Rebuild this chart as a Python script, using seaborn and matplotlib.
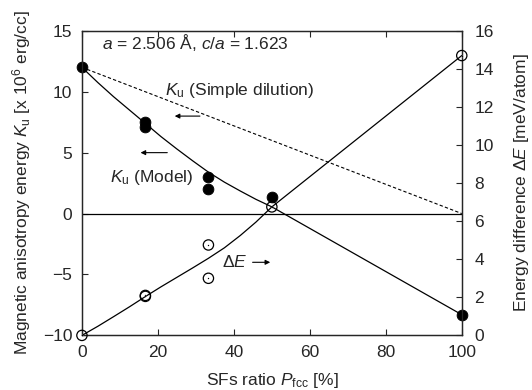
import numpy as np
import pandas as pd
import seaborn as sns
import matplotlib.pyplot as plt

# measured points
ku_x = [0, 16.7, 16.7, 33.3, 33.3, 50, 100]
ku_y = [12.0, 7.5, 7.1, 3.0, 2.0, 1.4, -8.3]
de_x = [0, 16.7, 16.7, 33.3, 33.3, 50, 100]
de_y = [0.0, 2.1, 2.05, 4.75, 3.0, 6.75, 14.7]

# model curves
model_x = [0, 4.2, 8.3, 12.5, 16.7, 20.8, 25, 29.2, 33.3, 37.5, 41.7, 45.8, 50, 100]
model_ku = [12.0, 10.75, 9.6, 8.5, 7.4, 6.32, 5.3, 4.32, 3.4, 2.58, 1.85, 1.17, 0.55, -8.3]
model_de = [0.0, 0.48, 0.98, 1.5, 2.04, 2.55, 3.05, 3.55, 4.05, 4.6, 5.25, 5.95, 6.75, 14.7]

# simple dilution
dil_x = [0, 100]
dil_y = [12.0, 0.0]

sns.set_style('ticks')
plt.rcParams['font.family'] = ['Liberation Sans', 'DejaVu Sans']
plt.rcParams['mathtext.fontset'] = 'custom'
plt.rcParams['mathtext.rm'] = 'Liberation Sans'
plt.rcParams['mathtext.it'] = 'Liberation Sans:italic'
fs = 12.5

fig = plt.figure(figsize=(5.32, 3.9), dpi=100)
ax = fig.add_axes([0.154, 0.140, 0.714, 0.781])
ax2 = ax.twinx()

ax.axhline(0, color='black', lw=0.9)
sns.lineplot(x=dil_x, y=dil_y, ax=ax, color='black', lw=0.8, linestyle=(0, (3, 2)))
sns.lineplot(x=model_x, y=model_ku, ax=ax, color='black', lw=0.9)
sns.scatterplot(x=ku_x, y=ku_y, ax=ax, color='black', s=60, edgecolor='black', zorder=5, clip_on=False)

sns.lineplot(x=model_x, y=model_de, ax=ax2, color='black', lw=0.9)
sns.scatterplot(x=de_x, y=de_y, ax=ax2, facecolor='none', edgecolor='black', s=55, linewidth=0.9, zorder=5, clip_on=False)
sns.scatterplot(x=de_x, y=de_y, ax=ax2, color='black', s=1, zorder=6, clip_on=False)

ax.set_xlim(0, 100)
ax.set_ylim(-10, 15)
ax2.set_ylim(0, 16)
ax.set_xticks([0, 20, 40, 60, 80, 100])
ax.set_yticks([-10, -5, 0, 5, 10, 15])
ax2.set_yticks(range(0, 17, 2))
ax.tick_params(direction='in', top=True, length=4, labelsize=fs, pad=7)
ax2.tick_params(direction='in', length=4, labelsize=fs, pad=9)
for a in (ax, ax2):
    for s in a.spines.values():
        s.set_linewidth(0.9)

ax.set_xlabel('SFs ratio $P_\\mathrm{fcc}$ [%]', fontsize=fs, labelpad=8)
ax.set_ylabel('Magnetic anisotropy energy $K_\\mathrm{u}$ [x 10$^6$ erg/cc]', fontsize=fs, labelpad=7)
ax2.set_ylabel('Energy difference $\\Delta E$ [meV/atom]', fontsize=fs, labelpad=13)

ax.text(5.3, 14.0, '$a$ = 2.506 Å, $c/a$ = 1.623', fontsize=fs, va='center')
ax.text(21.8, 10.1, '$K_\\mathrm{u}$ (Simple dilution)', fontsize=fs, va='center')
ax.text(7.4, 3.0, '$K_\\mathrm{u}$ (Model)', fontsize=fs, va='center')
ax.text(36.8, -4.0, '$\\Delta E$', fontsize=fs, va='center')

arrow = dict(arrowstyle='-|>', color='black', lw=0.8, mutation_scale=7)
ax.annotate('', xy=(23.7, 8.0), xytext=(31.8, 8.0), arrowprops=arrow)
ax.annotate('', xy=(14.7, 5.0), xytext=(23.2, 5.0), arrowprops=arrow)
ax.annotate('', xy=(50.3, -4.0), xytext=(44.2, -4.0), arrowprops=arrow)

fig.savefig('out.png', dpi=100)
